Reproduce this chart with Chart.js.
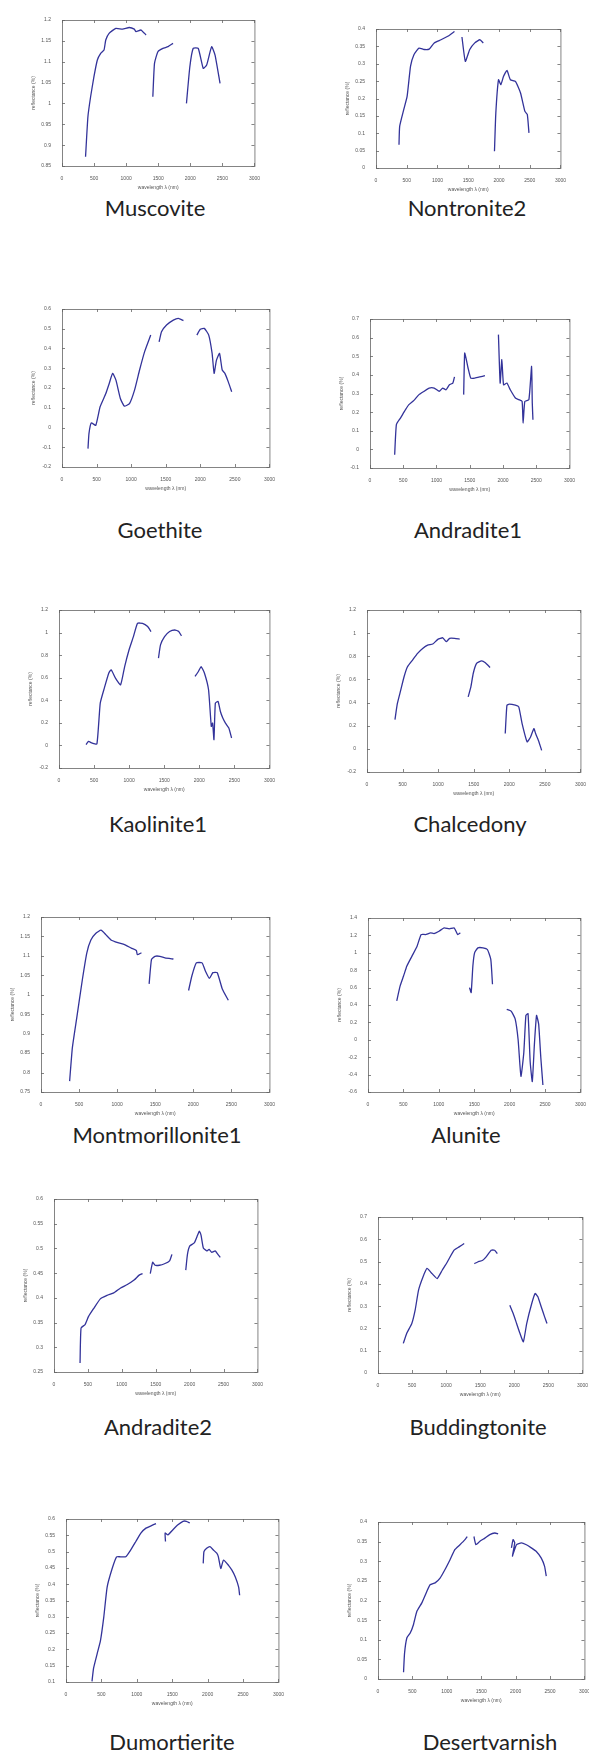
<!DOCTYPE html>
<html>
<head>
<meta charset="utf-8">
<script src="https://cdn.jsdelivr.net/npm/chart.js@4.4.0/dist/chart.umd.min.js"></script>
<style>
  body { margin: 0; background: #fff; }
  #page { position: relative; width: 589px; height: 1756px; overflow: hidden; background: #fff; }
  canvas { position: absolute; }
  .ttl { position: absolute; width: 240px; margin-left: -120px; text-align: center;
         font-family: Lato, "Open Sans", sans-serif; font-size: 22px; color: #222; line-height: 24px; margin-top: -12px; }
</style>
</head>
<body>
<div id="page">
  <canvas id="c1" width="232" height="178" style="left:30px;top:14px"></canvas>
  <canvas id="c2" width="224" height="171" style="left:344px;top:23px"></canvas>
  <canvas id="c3" width="247" height="190" style="left:30px;top:303px"></canvas>
  <canvas id="c4" width="239" height="181" style="left:338px;top:313px"></canvas>
  <canvas id="c5" width="250" height="190" style="left:27px;top:604px"></canvas>
  <canvas id="c6" width="253" height="194" style="left:335px;top:604px"></canvas>
  <canvas id="c7" width="268" height="207" style="left:9px;top:911px"></canvas>
  <canvas id="c8" width="252" height="206" style="left:336px;top:912px"></canvas>
  <canvas id="c9" width="243" height="205" style="left:22px;top:1193px"></canvas>
  <canvas id="c10" width="244" height="188" style="left:346px;top:1211px"></canvas>
  <canvas id="c11" width="252" height="195" style="left:34px;top:1513px"></canvas>
  <canvas id="c12" width="246" height="189" style="left:346px;top:1516px"></canvas>

  <div class="ttl" style="left:155px;top:208px">Muscovite</div>
  <div class="ttl" style="left:467px;top:208px">Nontronite2</div>
  <div class="ttl" style="left:160px;top:530px">Goethite</div>
  <div class="ttl" style="left:468px;top:530px">Andradite1</div>
  <div class="ttl" style="left:158px;top:824px">Kaolinite1</div>
  <div class="ttl" style="left:470px;top:824px">Chalcedony</div>
  <div class="ttl" style="left:157px;top:1135px">Montmorillonite1</div>
  <div class="ttl" style="left:466px;top:1135px">Alunite</div>
  <div class="ttl" style="left:158px;top:1427px">Andradite2</div>
  <div class="ttl" style="left:478px;top:1427px">Buddingtonite</div>
  <div class="ttl" style="left:172px;top:1742px">Dumortierite</div>
  <div class="ttl" style="left:490px;top:1742px">Desertvarnish</div>
</div>
<script>
// wavelength (nm) / reflectance, null = gap (water bands)
var muscoviteWl   = [367,404,446,498,551,603,655,682,734,839,944,1049,1127,1154,1232,1311,null,1416,1442,1495,1573,1652,1731,null,1940,1993,2045,2124,2202,2255,2333,2386,2464];
var muscoviteRefl = [0.872,0.968,1.016,1.064,1.104,1.12,1.128,1.152,1.168,1.18,1.178,1.182,1.178,1.172,1.176,1.164,null,1.016,1.096,1.124,1.132,1.136,1.144,null,1.0,1.088,1.132,1.132,1.084,1.092,1.136,1.116,1.048];

var nontroniteWl   = [374,385,451,506,562,617,699,782,864,947,1057,1167,1277,null,1398,1453,1525,1607,1690,1745,null,1927,1949,1993,2031,2075,2130,2186,2268,2351,2422,2461,2488];
var nontroniteRefl = [0.067,0.12,0.168,0.206,0.293,0.326,0.345,0.341,0.342,0.36,0.369,0.379,0.393,null,0.377,0.307,0.341,0.36,0.369,0.36,null,0.048,0.158,0.254,0.24,0.264,0.281,0.254,0.249,0.216,0.163,0.154,0.101];

var goethiteWl   = [376,390,424,488,551,634,683,732,780,844,902,976,1049,1122,1195,1283,null,1405,1439,1512,1610,1683,1756,null,1951,2000,2058,2122,2171,2200,2234,2278,2317,2356,2405,2454];
var goethiteRefl = [-0.107,-0.031,0.023,0.011,0.105,0.172,0.223,0.274,0.24,0.147,0.108,0.121,0.189,0.291,0.384,0.468,null,0.434,0.485,0.519,0.544,0.553,0.541,null,0.468,0.497,0.502,0.468,0.375,0.274,0.341,0.375,0.291,0.274,0.231,0.181];

var andradite1Wl   = [371,397,458,534,585,661,737,814,890,966,1042,1093,1144,1195,1246,1271,null,1409,1424,1449,1475,1515,1576,1652,1729,null,1932,1958,1983,2009,2059,2110,2187,2237,2288,2303,2329,2390,2431,2441,2451];
var andradite1Refl = [-0.029,0.133,0.168,0.213,0.24,0.263,0.294,0.312,0.329,0.329,0.312,0.329,0.32,0.347,0.356,0.389,null,0.294,0.517,0.482,0.437,0.383,0.383,0.389,0.396,null,0.616,0.356,0.482,0.347,0.356,0.32,0.276,0.267,0.258,0.141,0.258,0.267,0.446,0.249,0.159];

var kaoliniteWl   = [386,420,468,540,588,646,709,743,805,878,936,998,1061,1119,1191,1264,1312,null,1418,1447,1505,1577,1649,1707,1746,null,1939,1987,2026,2074,2132,2171,2190,2209,2229,2267,2301,2335,2373,2421,2460];
var kaoliniteRefl = [0.007,0.036,0.022,0.013,0.375,0.508,0.64,0.67,0.596,0.537,0.699,0.846,0.964,1.082,1.082,1.053,1.009,null,0.773,0.891,0.964,1.009,1.023,1.009,0.97,null,0.611,0.655,0.699,0.64,0.493,0.169,0.198,0.051,0.375,0.39,0.301,0.243,0.198,0.154,0.066];

var chalcedonyWl   = [393,427,474,521,569,640,711,782,853,924,995,1066,1114,1161,1232,1303,null,1422,1460,1493,1540,1611,1664,1730,null,1943,1967,2000,2085,2133,2180,2251,2299,2346,2370,2417,2455];
var chalcedonyRefl = [0.253,0.392,0.507,0.623,0.709,0.767,0.825,0.868,0.897,0.906,0.946,0.96,0.926,0.955,0.955,0.949,null,0.449,0.536,0.651,0.738,0.761,0.744,0.703,null,0.132,0.377,0.386,0.377,0.363,0.218,0.06,0.103,0.175,0.132,0.06,-0.013];

var montmorilloniteWl   = [376,412,469,544,602,655,721,788,854,920,1009,1097,1186,1252,1265,1319,null,1420,1451,1496,1562,1628,1739,null,1938,1982,2040,2115,2159,2212,2257,2314,2381,2460];
var montmorilloniteRefl = [0.778,0.864,0.94,1.04,1.108,1.141,1.158,1.166,1.154,1.141,1.134,1.129,1.12,1.114,1.103,1.108,null,1.028,1.091,1.099,1.099,1.095,1.092,null,1.011,1.049,1.082,1.082,1.061,1.042,1.057,1.057,1.015,0.986];

var aluniteWl   = [406,454,502,549,621,693,750,812,884,932,1003,1075,1147,1218,1266,1304,null,1433,1457,1481,1505,1552,1624,1686,1734,1758,null,1959,2021,2078,2120,2160,2200,2230,2260,2290,2320,2350,2380,2410,2440,2470];
var aluniteRefl = [0.448,0.619,0.733,0.848,0.962,1.076,1.21,1.21,1.229,1.221,1.248,1.286,1.274,1.286,1.21,1.229,null,0.6,0.543,0.848,1.0,1.057,1.057,1.038,0.924,0.638,null,0.35,0.33,0.24,0.0,-0.42,-0.15,0.28,0.3,-0.25,-0.48,-0.05,0.28,0.18,-0.2,-0.52];

var andradite2Wl   = [384,399,458,508,583,683,782,882,982,1081,1181,1256,1306,null,1420,1455,1490,1555,1629,1704,1739,null,1943,1968,2003,2068,2118,2143,2168,2202,2252,2287,2327,2377,2417,2452];
var andradite2Refl = [0.268,0.339,0.346,0.362,0.378,0.398,0.405,0.41,0.42,0.427,0.436,0.446,0.449,null,0.449,0.472,0.466,0.466,0.469,0.475,0.488,null,0.456,0.488,0.505,0.511,0.527,0.535,0.527,0.501,0.495,0.498,0.492,0.495,0.488,0.482];

var buddingtoniteWl   = [372,422,496,545,595,660,719,793,868,942,1017,1116,1190,1265,null,1413,1463,1537,1587,1661,1711,1751,null,1934,1984,2034,2083,2133,2182,2256,2306,2346,2395,2445,2480];
var buddingtoniteRefl = [0.133,0.178,0.222,0.282,0.372,0.431,0.469,0.446,0.424,0.461,0.498,0.551,0.566,0.581,null,0.491,0.498,0.506,0.521,0.551,0.551,0.536,null,0.304,0.267,0.222,0.178,0.14,0.222,0.312,0.357,0.342,0.297,0.252,0.222];

var dumortieriteWl   = [367,390,438,486,533,581,652,714,771,843,914,986,1057,1129,1200,1271,null,1405,1400,1438,1510,1581,1652,1700,1748,null,1938,1948,1986,2033,2081,2129,2152,2186,2224,2295,2343,2391,2438,2452];
var dumortieriteRefl = [0.102,0.143,0.185,0.226,0.298,0.391,0.448,0.484,0.484,0.484,0.505,0.531,0.557,0.572,0.579,0.586,null,0.531,0.557,0.551,0.567,0.582,0.593,0.593,0.588,null,0.464,0.5,0.51,0.515,0.505,0.495,0.484,0.448,0.474,0.458,0.443,0.422,0.391,0.366];

var desertvarnishWl   = [371,386,420,468,516,564,637,709,757,830,902,974,1047,1119,1191,1264,1297,null,1394,1423,1481,1553,1625,1698,1746,null,1939,1963,1987,1953,2011,2084,2156,2228,2301,2373,2421,2445];
var desertvarnishRefl = [0.017,0.066,0.105,0.117,0.139,0.172,0.194,0.223,0.24,0.245,0.257,0.279,0.304,0.33,0.342,0.355,0.363,null,0.363,0.342,0.351,0.359,0.368,0.372,0.37,null,0.334,0.355,0.347,0.313,0.342,0.347,0.342,0.334,0.325,0.308,0.287,0.262];

// y axis ranges per plot: [min, max, step]
var muscoviteY = [0.85, 1.2, 0.05];
var nontroniteY = [0, 0.4, 0.05];
var goethiteY = [-0.2, 0.6, 0.1];
var andradite1Y = [-0.1, 0.7, 0.1];
var kaoliniteY = [-0.2, 1.2, 0.2];
var chalcedonyY = [-0.2, 1.2, 0.2];
var montmorilloniteY = [0.75, 1.2, 0.05];
var aluniteY = [-0.6, 1.4, 0.2];
var andradite2Y = [0.25, 0.6, 0.05];
var buddingtoniteY = [0, 0.7, 0.1];
var dumortieriteY = [0.1, 0.6, 0.05];
var desertvarnishY = [0, 0.4, 0.05];

var xTicks = [0, 500, 1000, 1500, 2000, 2500, 3000];

// box + inward ticks on all four sides, matlab style
var boxPlugin = {
  id: 'box',
  afterDraw: function(chart) {
    var ctx = chart.ctx, a = chart.chartArea;
    var xs = chart.scales.x, ys = chart.scales.y;
    ctx.save();
    ctx.strokeStyle = '#666';
    ctx.lineWidth = 0.8;
    ctx.strokeRect(a.left + 0.5, a.top + 0.5, a.right - a.left, a.bottom - a.top);
    ctx.beginPath();
    xs.ticks.forEach(function(t) {
      var px = Math.round(xs.getPixelForValue(t.value)) + 0.5;
      ctx.moveTo(px, a.bottom); ctx.lineTo(px, a.bottom - 3);
      ctx.moveTo(px, a.top); ctx.lineTo(px, a.top + 3);
    });
    ys.ticks.forEach(function(t) {
      var py = Math.round(ys.getPixelForValue(t.value)) + 0.5;
      ctx.moveTo(a.left, py); ctx.lineTo(a.left + 3, py);
      ctx.moveTo(a.right, py); ctx.lineTo(a.right - 3, py);
    });
    ctx.stroke();
    ctx.restore();
  }
};

function toPoints(wl, refl) {
  var pts = [];
  for (var i = 0; i < wl.length; i++) {
    if (wl[i] === null) pts.push({x: NaN, y: null});
    else pts.push({x: wl[i], y: refl[i]});
  }
  return pts;
}

function makePlot(id, wl, refl, yr) {
  var Cnvs = document.getElementById(id).getContext('2d');
  var tickFont = {family: 'Liberation Sans', size: 5};
  return new Chart(Cnvs, {
    type: 'line',
    data: {
      datasets: [{
        data: toPoints(wl, refl),
        borderColor: '#33339a',
        borderWidth: 1.3,
        pointRadius: 0,
        tension: 0.15,
        spanGaps: false
      }]
    },
    options: {
      responsive: false,
      animation: false,
      devicePixelRatio: 1,
      layout: {padding: {top: 6, right: 7, left: 0, bottom: 0}},
      plugins: {legend: {display: false}, tooltip: {enabled: false}},
      scales: {
        x: {
          type: 'linear', min: 0, max: 3000,
          afterBuildTicks: function(s) { s.ticks = xTicks.map(function(v) { return {value: v}; }); },
          afterFit: function(s) { s.height = 26; },
          grid: {display: false}, border: {display: false},
          ticks: {font: tickFont, color: '#555', padding: 2, maxRotation: 0,
                  callback: function(v) { return String(v); }},
          title: {display: true, text: 'wavelength \u03bb (nm)', font: tickFont, color: '#555', padding: 1}
        },
        y: {
          type: 'linear', min: yr[0], max: yr[1],
          ticks: {stepSize: yr[2], font: tickFont, color: '#555', padding: 3,
                  callback: function(v) { return String(+v.toFixed(2)); }},
          afterFit: function(s) { s.width = 32; },
          grid: {display: false}, border: {display: false},
          title: {display: true, text: 'reflectance (%)', font: tickFont, color: '#555', padding: 1}
        }
      }
    },
    plugins: [boxPlugin]
  });
}

makePlot('c1', muscoviteWl, muscoviteRefl, muscoviteY);
makePlot('c2', nontroniteWl, nontroniteRefl, nontroniteY);
makePlot('c3', goethiteWl, goethiteRefl, goethiteY);
makePlot('c4', andradite1Wl, andradite1Refl, andradite1Y);
makePlot('c5', kaoliniteWl, kaoliniteRefl, kaoliniteY);
makePlot('c6', chalcedonyWl, chalcedonyRefl, chalcedonyY);
makePlot('c7', montmorilloniteWl, montmorilloniteRefl, montmorilloniteY);
makePlot('c8', aluniteWl, aluniteRefl, aluniteY);
makePlot('c9', andradite2Wl, andradite2Refl, andradite2Y);
makePlot('c10', buddingtoniteWl, buddingtoniteRefl, buddingtoniteY);
makePlot('c11', dumortieriteWl, dumortieriteRefl, dumortieriteY);
makePlot('c12', desertvarnishWl, desertvarnishRefl, desertvarnishY);
</script>
</body>
</html>
